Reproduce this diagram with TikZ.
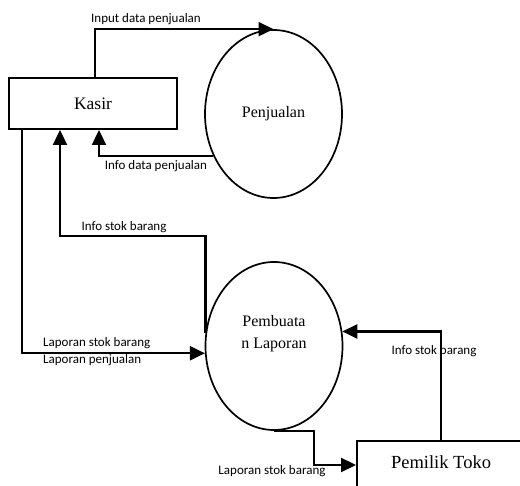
\documentclass[tikz,border=0pt]{standalone}
\usepackage{fontspec}
\setmainfont{Liberation Serif}
\newfontfamily\lblfont{Carlito}
\usetikzlibrary{shapes.geometric,arrows.meta}
\begin{document}
\begin{tikzpicture}[x=1pt,y=-1pt,
  entity/.style={draw,line width=2pt,rectangle,inner sep=0pt},
  proc/.style={draw,line width=1.7pt,ellipse,inner sep=0pt,minimum width=137pt,minimum height=168pt},
  flow/.style={line width=2.3pt,-{Triangle[length=15pt,width=14pt]}},
  lbl/.style={font=\lblfont\fontsize{13}{15}\selectfont,inner sep=0pt},
  serif/.style={font=\rmfamily\fontsize{#1}{#1}\selectfont}]
\useasboundingbox (0,0) rectangle (520,486);

% nodes
\node[entity,minimum width=168pt,minimum height=51pt,serif=17.5] (kasir) at (93,103.5) {Kasir};
\node[proc,serif=16] (penj) at (273.5,114) {Penjualan};
\node[proc] (pemb) at (274,346) {};
\node[align=center,inner sep=0pt,font=\rmfamily\fontsize{16}{22}\selectfont] (pembt) at (274,334) {Pembuata\\n Laporan};
\node[entity,anchor=north west,minimum width=168pt,minimum height=70pt,text height=13pt,text depth=29pt,serif=18.5] (pemilik) at (356,440) {Pemilik Toko};

% bend coordinates
\coordinate (c95) at (95,0);
\coordinate (c99) at (99,0);
\coordinate (ist) at (60,236);
\coordinate (c22) at (22,0);
\coordinate (lb) at (314,465);

% connectors
\draw[flow] (kasir.north -| c95) |- (penj.north);
\draw[flow] (penj.215) -| (kasir.south -| c99);
\draw[flow] (pemb.169) |- (ist) -- (kasir.south -| ist);
\draw[flow] (kasir.south -| c22) |- (pemb.186);
\draw[flow] (pemilik.north) |- (pemb.12);
\draw[flow] (pemb.south) -| (lb) -- (pemilik.west |- lb);

% labels
\node[lbl] (l1) at (146,19) {Input data penjualan};
\node[lbl] (l2) at (156,166) {Info data penjualan};
\node[lbl] (l3) at (124,227) {Info stok barang};
\node[lbl,anchor=west] (l4) at (43,343) {Laporan stok barang};
\node[lbl,anchor=west] (l5) at (43,360) {Laporan penjualan};
\node[lbl] (l6) at (434,351) {Info stok barang};
\node[lbl] (l7) at (272,471) {Laporan stok barang};
\end{tikzpicture}
\end{document}
